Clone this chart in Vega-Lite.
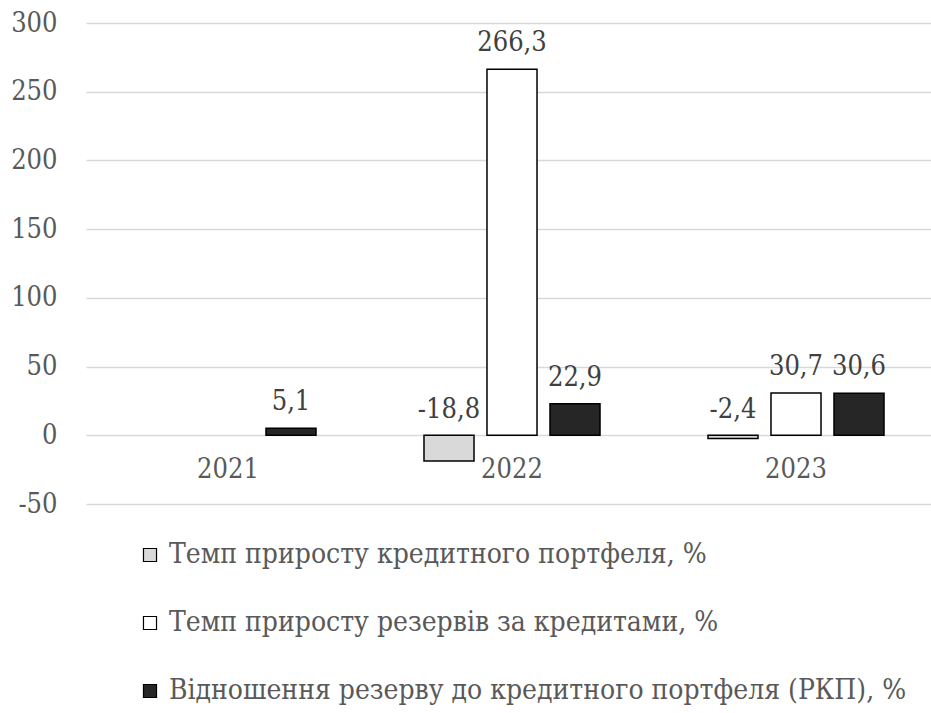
{
  "$schema": "https://vega.github.io/schema/vega-lite/v6.json",
  "width": 845,
  "height": 481,
  "autosize": {"type": "none"},
  "padding": {"left": 86, "top": 23, "right": 0, "bottom": 209},
  "background": "white",
  "config": {
    "view": {"stroke": null},
    "font": "DejaVu Serif Condensed",
    "axis": {"labelFont": "DejaVu Serif Condensed", "labelFontSize": 27, "labelColor": "#595959"},
    "legend": {"labelFont": "DejaVu Serif Condensed", "labelFontSize": 28, "labelColor": "#595959"}
  },
  "data": {
    "values": [
      {"year": "2021", "series": "Відношення резерву до кредитного портфеля (РКП), %", "value": 5.1, "label": "5,1"},
      {"year": "2022", "series": "Темп приросту кредитного портфеля, %", "value": -18.8, "label": "-18,8"},
      {"year": "2022", "series": "Темп приросту резервів за кредитами, %", "value": 266.3, "label": "266,3"},
      {"year": "2022", "series": "Відношення резерву до кредитного портфеля (РКП), %", "value": 22.9, "label": "22,9"},
      {"year": "2023", "series": "Темп приросту кредитного портфеля, %", "value": -2.4, "label": "-2,4"},
      {"year": "2023", "series": "Темп приросту резервів за кредитами, %", "value": 30.7, "label": "30,7"},
      {"year": "2023", "series": "Відношення резерву до кредитного портфеля (РКП), %", "value": 30.6, "label": "30,6"}
    ]
  },
  "encoding": {
    "x": {
      "field": "year",
      "type": "nominal",
      "scale": {"domain": ["2021", "2022", "2023"], "range": [0, 852], "paddingInner": 0, "paddingOuter": 0},
      "axis": {"title": null, "labelAngle": 0, "ticks": false, "domain": false, "offset": -69, "labelPadding": 21}
    },
    "xOffset": {
      "field": "series",
      "type": "nominal",
      "scale": {
        "domain": ["Темп приросту кредитного портфеля, %", "Темп приросту резервів за кредитами, %", "Відношення резерву до кредитного портфеля (РКП), %"],
        "paddingInner": 0.206,
        "paddingOuter": 0.857
      }
    }
  },
  "layer": [
    {
      "mark": {"type": "bar", "stroke": "black", "strokeWidth": 1.5},
      "encoding": {
        "y": {
          "field": "value",
          "type": "quantitative",
          "scale": {"domain": [-50, 300], "nice": false},
          "axis": {
            "title": null,
            "values": [-50, 0, 50, 100, 150, 200, 250, 300],
            "labelExpr": "replace(datum.label, '−', '-')",
            "ticks": false,
            "domain": false,
            "labelPadding": 29,
            "gridColor": "#d9d9d9",
            "gridWidth": 1.5
          }
        },
        "fill": {
          "field": "series",
          "type": "nominal",
          "scale": {
            "domain": ["Темп приросту кредитного портфеля, %", "Темп приросту резервів за кредитами, %", "Відношення резерву до кредитного портфеля (РКП), %"],
            "range": ["#d9d9d9", "#ffffff", "#262626"]
          },
          "legend": {
            "title": null,
            "orient": "none",
            "legendX": 50,
            "legendY": 518,
            "direction": "vertical",
            "symbolType": "square",
            "symbolSize": 170,
            "symbolStrokeColor": "black",
            "symbolStrokeWidth": 1.2,
            "labelOffset": 5,
            "rowPadding": 40,
            "labelLimit": 900
          }
        }
      }
    },
    {
      "transform": [{"filter": "datum.value >= 0"}],
      "mark": {"type": "text", "font": "DejaVu Serif Condensed", "fontSize": 27, "color": "#404040", "baseline": "middle", "dy": -26},
      "encoding": {
        "y": {"field": "value", "type": "quantitative"},
        "text": {"field": "label"}
      }
    },
    {
      "transform": [{"filter": "datum.value < 0"}],
      "mark": {"type": "text", "font": "DejaVu Serif Condensed", "fontSize": 27, "color": "#404040", "baseline": "middle", "dy": -25},
      "encoding": {
        "y": {"datum": 0, "type": "quantitative"},
        "text": {"field": "label"}
      }
    }
  ]
}
